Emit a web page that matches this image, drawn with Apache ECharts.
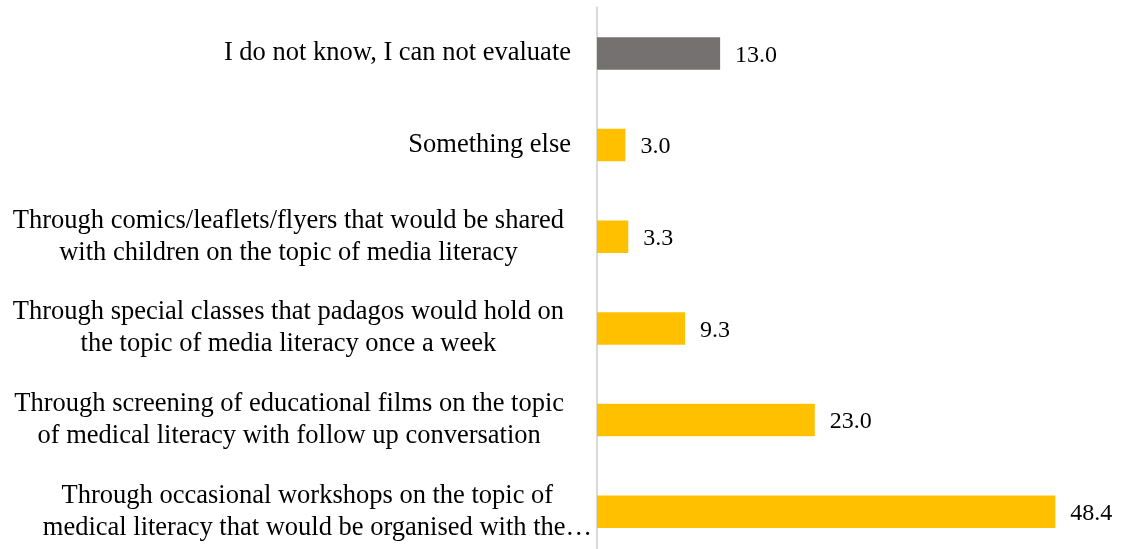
<!DOCTYPE html>
<html>
<head>
<meta charset="utf-8">
<title>Preferred ways of learning about media literacy</title>
<script src="https://cdn.jsdelivr.net/npm/echarts@6/dist/echarts.min.js"></script>
<style>
  html, body { margin: 0; padding: 0; background: #ffffff; }
  #chart { width: 1121px; height: 549px; }
</style>
</head>
<body>
<div id="chart"></div>
<script>
// Answer options, listed top to bottom
const categories = [
  'I do not know, I can not evaluate',
  'Something else',
  'Through comics/leaflets/flyers that would be shared\nwith children on the topic of media literacy',
  'Through special classes that padagos would hold on\nthe topic of media literacy once a week',
  'Through screening of educational films on the topic\nof medical literacy with follow up conversation',
  'Through occasional workshops on the topic of\nmedical literacy that would be organised with the\u2026'
];

// Share of respondents (%)
const values = [13.0, 3.0, 3.3, 9.3, 23.0, 48.4];

const YELLOW = '#FFC000';
const GREY = '#767171';
const LABEL_FONT = '"Liberation Serif", "Times New Roman", serif';

// "Don't know" answer is shown in grey, substantive answers in yellow
const barData = values.map((v, i) => ({
  value: v,
  itemStyle: { color: i === 0 ? GREY : YELLOW }
}));

// Wrapped labels: lines centred in their block; single-line labels flush right;
// the truncated label overflows its box towards the axis
function labelFormatter(text) {
  const lines = text.split('\n');
  if (lines.length === 1) return '{s|' + text + '}';
  if (text.endsWith('\u2026')) {
    return lines.map((l, i) => '{' + (i === 0 ? 'e1' : 'e') + '|' + l + '}').join('\n');
  }
  return lines.map(l => '{m|' + l + '}').join('\n');
}

const baseRich = { fontFamily: LABEL_FONT, fontSize: 26.5, lineHeight: 32, color: '#000000', align: 'center' };

const chart = echarts.init(document.getElementById('chart'), null, { renderer: 'canvas' });

chart.setOption({
  animation: false,
  backgroundColor: '#ffffff',
  grid: {
    left: 597,
    top: 7.6,
    height: 550,
    width: 520.85,
    outerBoundsMode: 'none',
    containLabel: false
  },
  xAxis: {
    type: 'value',
    min: 0,
    max: 55,
    show: false,
    splitLine: { show: false }
  },
  yAxis: {
    type: 'category',
    inverse: true,
    data: categories,
    offset: 1,
    axisLine: { show: true, lineStyle: { color: '#d9d9d9', width: 2 } },
    axisTick: { show: false },
    splitLine: { show: false },
    axisLabel: {
      margin: 4,
      fontFamily: LABEL_FONT,
      fontSize: 26.5,
      lineHeight: 32,
      color: '#000000',
      formatter: labelFormatter,
      rich: {
        s: Object.assign({}, baseRich, { padding: [0, 21, 0, 0] }),
        m: Object.assign({}, baseRich, { padding: [0, 28, 0, 0] }),
        e1: Object.assign({}, baseRich, { padding: [0, 20, 0, 0] }),
        e: Object.assign({}, baseRich, { padding: [0, 0, 0, 0] })
      }
    }
  },
  series: [{
    type: 'bar',
    data: barData,
    barWidth: '35.5%',
    label: {
      show: true,
      position: 'right',
      distance: 15,
      offset: [0, 2],
      fontFamily: LABEL_FONT,
      fontSize: 24,
      color: '#000000',
      formatter: p => Number(p.value).toFixed(1)
    }
  }]
});
</script>
</body>
</html>
